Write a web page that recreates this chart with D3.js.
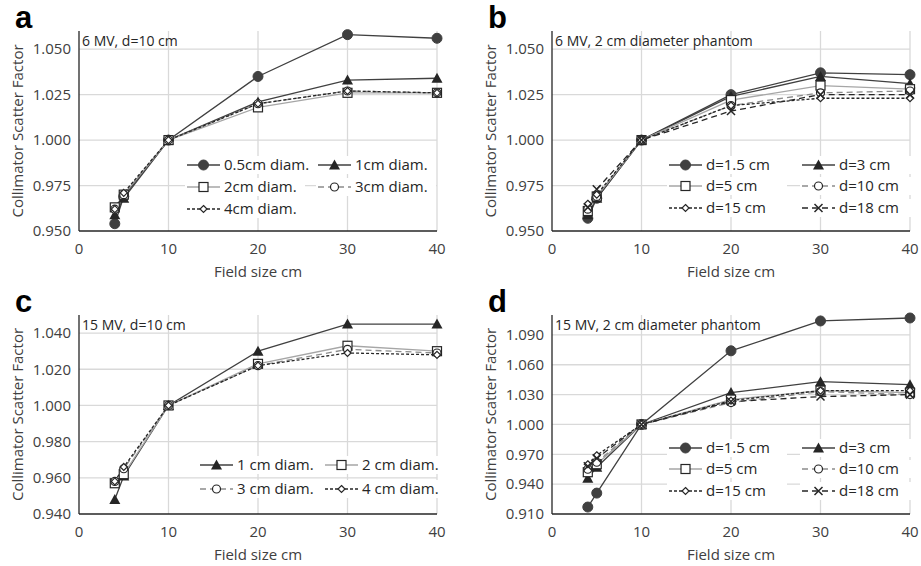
<!DOCTYPE html>
<html>
<head>
<meta charset="utf-8">
<script src="https://cdn.jsdelivr.net/npm/d3@7"></script>
<style>
	body { margin: 0; background: #fff; }
	svg { display: block; font-family: "Open Sans", sans-serif; }
</style>
</head>
<body>
<div id="chart"></div>
<script>

// field sizes (cm) shared by all panels
const fieldSizes = [ 4, 5, 10, 20, 30, 40 ];

// panel a : 6 MV, d=10 cm
const a_05cm = [ 0.954, 0.969, 1.000, 1.035, 1.058, 1.056 ];
const a_1cm  = [ 0.959, 0.968, 1.000, 1.021, 1.033, 1.034 ];
const a_2cm  = [ 0.963, 0.970, 1.000, 1.018, 1.026, 1.026 ];
const a_3cm  = [ 0.962, 0.970, 1.000, 1.020, 1.027, 1.026 ];
const a_4cm  = [ 0.962, 0.971, 1.000, 1.020, 1.027, 1.026 ];

// panel b : 6 MV, 2 cm diameter phantom
const b_d15 = [ 0.957, 0.968, 1.000, 1.025, 1.037, 1.036 ];
const b_d3  = [ 0.959, 0.968, 1.000, 1.024, 1.035, 1.031 ];
const b_d5  = [ 0.961, 0.969, 1.000, 1.022, 1.030, 1.028 ];
const b_d10 = [ 0.962, 0.969, 1.000, 1.019, 1.026, 1.027 ];
const b_d15b = [ 0.965, 0.970, 1.000, 1.019, 1.023, 1.023 ];
const b_d18 = [ 0.963, 0.973, 1.000, 1.016, 1.025, 1.025 ];

// panel c : 15 MV, d=10 cm
const c_1cm = [ 0.948, 0.961, 1.000, 1.030, 1.045, 1.045 ];
const c_2cm = [ 0.957, 0.962, 1.000, 1.023, 1.033, 1.030 ];
const c_3cm = [ 0.958, 0.965, 1.000, 1.022, 1.031, 1.029 ];
const c_4cm = [ 0.958, 0.966, 1.000, 1.022, 1.029, 1.028 ];

// panel d : 15 MV, 2 cm diameter phantom
const d_d15 = [ 0.917, 0.931, 1.000, 1.074, 1.104, 1.107 ];
const d_d3  = [ 0.946, 0.957, 1.000, 1.032, 1.043, 1.040 ];
const d_d5  = [ 0.952, 0.960, 1.000, 1.025, 1.034, 1.032 ];
const d_d10 = [ 0.955, 0.962, 1.000, 1.022, 1.033, 1.030 ];
const d_d15b = [ 0.960, 0.969, 1.000, 1.024, 1.034, 1.034 ];
const d_d18 = [ 0.958, 0.966, 1.000, 1.023, 1.028, 1.030 ];

const xTicks = [ 0, 10, 20, 30, 40 ];
const yTicksA = [ 0.950, 0.975, 1.000, 1.025, 1.050 ];
const yTicksC = [ 0.940, 0.960, 0.980, 1.000, 1.020, 1.040 ];
const yTicksD = [ 0.910, 0.940, 0.970, 1.000, 1.030, 1.060, 1.090 ];

///////////////////////////////////////////////////////////////////////

// series styles
const sty = {
	circF:  { marker: "circleF",  line: "#404040", dash: null },
	tri:    { marker: "triangle", line: "#404040", dash: null },
	sq:     { marker: "square",   line: "#a6a6a6", dash: null },
	circO:  { marker: "circleO",  line: "#8c8c8c", dash: "6,4" },
	dia:    { marker: "diamond",  line: "#262626", dash: "3,2" },
	cross:  { marker: "cross",    line: "#262626", dash: "6,4" }
};

const panels = [
	{ letter: "a", note: "6 MV, d=10 cm", left: 79, top: 31, right: 437, bottom: 231,
	  ydom: [ 0.95, 1.06 ], yticks: yTicksA,
	  series: [
		{ name: "0.5cm diam.", vals: a_05cm, s: sty.circF },
		{ name: "1cm diam.", vals: a_1cm, s: sty.tri },
		{ name: "2cm diam.", vals: a_2cm, s: sty.sq },
		{ name: "3cm diam.", vals: a_3cm, s: sty.circO },
		{ name: "4cm diam.", vals: a_4cm, s: sty.dia }
	  ],
	  legend: { x: [ 187, 318 ], y: [ 165, 187, 209 ] } },
	{ letter: "b", note: "6 MV, 2 cm diameter phantom", left: 552, top: 31, right: 910, bottom: 231,
	  ydom: [ 0.95, 1.06 ], yticks: yTicksA,
	  series: [
		{ name: "d=1.5 cm", vals: b_d15, s: sty.circF },
		{ name: "d=3 cm", vals: b_d3, s: sty.tri },
		{ name: "d=5 cm", vals: b_d5, s: sty.sq },
		{ name: "d=10 cm", vals: b_d10, s: sty.circO },
		{ name: "d=15 cm", vals: b_d15b, s: sty.dia },
		{ name: "d=18 cm", vals: b_d18, s: sty.cross }
	  ],
	  legend: { x: [ 669, 802 ], y: [ 165, 186, 208 ] } },
	{ letter: "c", note: "15 MV, d=10 cm", left: 79, top: 315, right: 437, bottom: 514,
	  ydom: [ 0.94, 1.05 ], yticks: yTicksC,
	  series: [
		{ name: "1 cm diam.", vals: c_1cm, s: sty.tri },
		{ name: "2 cm diam.", vals: c_2cm, s: sty.sq },
		{ name: "3 cm diam.", vals: c_3cm, s: sty.circO },
		{ name: "4 cm diam.", vals: c_4cm, s: sty.dia }
	  ],
	  legend: { x: [ 200, 325 ], y: [ 465, 489 ] } },
	{ letter: "d", note: "15 MV, 2 cm diameter phantom", left: 552, top: 315, right: 910, bottom: 514,
	  ydom: [ 0.91, 1.11 ], yticks: yTicksD,
	  series: [
		{ name: "d=1.5 cm", vals: d_d15, s: sty.circF },
		{ name: "d=3 cm", vals: d_d3, s: sty.tri },
		{ name: "d=5 cm", vals: d_d5, s: sty.sq },
		{ name: "d=10 cm", vals: d_d10, s: sty.circO },
		{ name: "d=15 cm", vals: d_d15b, s: sty.dia },
		{ name: "d=18 cm", vals: d_d18, s: sty.cross }
	  ],
	  legend: { x: [ 669, 802 ], y: [ 448, 469, 491 ] } }
];

const svg = d3.select( "#chart" ).append( "svg" )
	.attr( "width", 921 ).attr( "height", 566 );

function drawMarker( g, type, x, y ) {
	if ( type === "circleF" )
		g.append( "circle" ).attr( "cx", x ).attr( "cy", y ).attr( "r", 5 )
			.attr( "fill", "#404040" ).attr( "stroke", "#404040" );
	else if ( type === "triangle" )
		g.append( "path" ).attr( "transform", `translate(${x},${y})` )
			.attr( "d", "M0,-5.5L5.5,4.5L-5.5,4.5Z" ).attr( "fill", "#262626" );
	else if ( type === "square" )
		g.append( "rect" ).attr( "x", x - 4.5 ).attr( "y", y - 4.5 )
			.attr( "width", 9 ).attr( "height", 9 )
			.attr( "fill", "#fff" ).attr( "stroke", "#262626" ).attr( "stroke-width", 1.2 );
	else if ( type === "circleO" )
		g.append( "circle" ).attr( "cx", x ).attr( "cy", y ).attr( "r", 4 )
			.attr( "fill", "#fff" ).attr( "stroke", "#262626" ).attr( "stroke-width", 1.2 );
	else if ( type === "diamond" )
		g.append( "path" ).attr( "transform", `translate(${x},${y})` )
			.attr( "d", "M0,-3.5L3.5,0L0,3.5L-3.5,0Z" )
			.attr( "fill", "#fff" ).attr( "stroke", "#262626" ).attr( "stroke-width", 1.2 );
	else if ( type === "cross" )
		g.append( "path" ).attr( "transform", `translate(${x},${y})` )
			.attr( "d", "M-4,-4L4,4M-4,4L4,-4" )
			.attr( "stroke", "#262626" ).attr( "stroke-width", 1.5 ).attr( "fill", "none" );
}

panels.forEach( p => {

	const g = svg.append( "g" );

	const x = d3.scaleLinear().domain( [ 0, 40 ] ).range( [ p.left, p.right ] );
	const y = d3.scaleLinear().domain( p.ydom ).range( [ p.bottom, p.top ] );

	// gridlines
	g.selectAll( ".hg" ).data( p.yticks.filter( t => t !== p.ydom[ 0 ] ) ).join( "line" )
		.attr( "x1", p.left ).attr( "x2", p.right )
		.attr( "y1", d => y( d ) ).attr( "y2", d => y( d ) )
		.attr( "stroke", "#d9d9d9" ).attr( "stroke-width", 1.3 );
	g.selectAll( ".vg" ).data( xTicks.filter( t => t > 0 ) ).join( "line" )
		.attr( "x1", d => x( d ) ).attr( "x2", d => x( d ) )
		.attr( "y1", p.top ).attr( "y2", p.bottom )
		.attr( "stroke", "#d9d9d9" ).attr( "stroke-width", 1.3 );

	// axes lines
	g.append( "line" ).attr( "x1", p.left ).attr( "x2", p.left )
		.attr( "y1", p.top ).attr( "y2", p.bottom ).attr( "stroke", "#262626" ).attr( "stroke-width", 1.3 );
	g.append( "line" ).attr( "x1", p.left ).attr( "x2", p.right )
		.attr( "y1", p.bottom ).attr( "y2", p.bottom ).attr( "stroke", "#262626" ).attr( "stroke-width", 1.3 );

	// tick labels
	g.selectAll( ".yl" ).data( p.yticks ).join( "text" )
		.attr( "x", p.left - 8 ).attr( "y", d => y( d ) ).attr( "dy", "0.35em" )
		.attr( "text-anchor", "end" ).attr( "font-size", 15 ).attr( "fill", "#404040" )
		.text( d => d3.format( ".3f" )( d ) );
	g.selectAll( ".xl" ).data( xTicks ).join( "text" )
		.attr( "x", d => x( d ) ).attr( "y", p.bottom + 18 ).attr( "dy", "0.35em" )
		.attr( "text-anchor", "middle" ).attr( "font-size", 15 ).attr( "fill", "#404040" )
		.text( d => d );

	// axis titles
	g.append( "text" ).attr( "x", ( p.left + p.right ) / 2 ).attr( "y", p.bottom + 41 ).attr( "dy", "0.35em" )
		.attr( "text-anchor", "middle" ).attr( "font-size", 15 ).attr( "fill", "#404040" )
		.text( "Field size cm" );
	g.append( "text" )
		.attr( "transform", `translate(${p.left - 61},${( p.top + p.bottom ) / 2}) rotate(-90)` )
		.attr( "dy", "0.35em" ).attr( "text-anchor", "middle" ).attr( "font-size", 15 ).attr( "fill", "#404040" )
		.text( "Collimator Scatter Factor" );

	// panel letter and note
	g.append( "text" ).attr( "x", p.left - 64 ).attr( "y", p.top - 3 )
		.attr( "font-family", "Liberation Sans, Arial, sans-serif" ).attr( "font-weight", "bold" )
		.attr( "font-size", 31 ).attr( "fill", "#000" ).text( p.letter );
	g.append( "text" ).attr( "x", p.left + 3 ).attr( "y", p.top + 10 ).attr( "dy", "0.35em" )
		.attr( "font-size", 14 ).attr( "fill", "#262626" ).text( p.note );

	// series lines + markers
	const line = d3.line().x( d => x( d[ 0 ] ) ).y( d => y( d[ 1 ] ) );
	p.series.forEach( s => {
		const pts = fieldSizes.map( ( f, i ) => [ f, s.vals[ i ] ] );
		g.append( "path" ).attr( "d", line( pts ) ).attr( "fill", "none" )
			.attr( "stroke", s.s.line ).attr( "stroke-width", 1.3 )
			.attr( "stroke-dasharray", s.s.dash );
	} );
	p.series.forEach( s => {
		fieldSizes.forEach( ( f, i ) => drawMarker( g, s.s.marker, x( f ), y( s.vals[ i ] ) ) );
	} );

	// legend
	p.series.forEach( ( s, i ) => {
		const lx = p.legend.x[ i % 2 ], ly = p.legend.y[ Math.floor( i / 2 ) ];
		g.append( "rect" ).attr( "x", lx - 2 ).attr( "y", ly - 9 ).attr( "width", 120 ).attr( "height", 18 ).attr( "fill", "#fff" );
		g.append( "line" ).attr( "x1", lx ).attr( "x2", lx + 33 ).attr( "y1", ly ).attr( "y2", ly )
			.attr( "stroke", s.s.line ).attr( "stroke-width", 1.3 ).attr( "stroke-dasharray", s.s.dash );
		drawMarker( g, s.s.marker, lx + 16.5, ly );
		g.append( "text" ).attr( "x", lx + 37 ).attr( "y", ly ).attr( "dy", "0.35em" )
			.attr( "font-size", 15 ).attr( "fill", "#262626" ).text( s.name );
	} );
} );

</script>
</body>
</html>
